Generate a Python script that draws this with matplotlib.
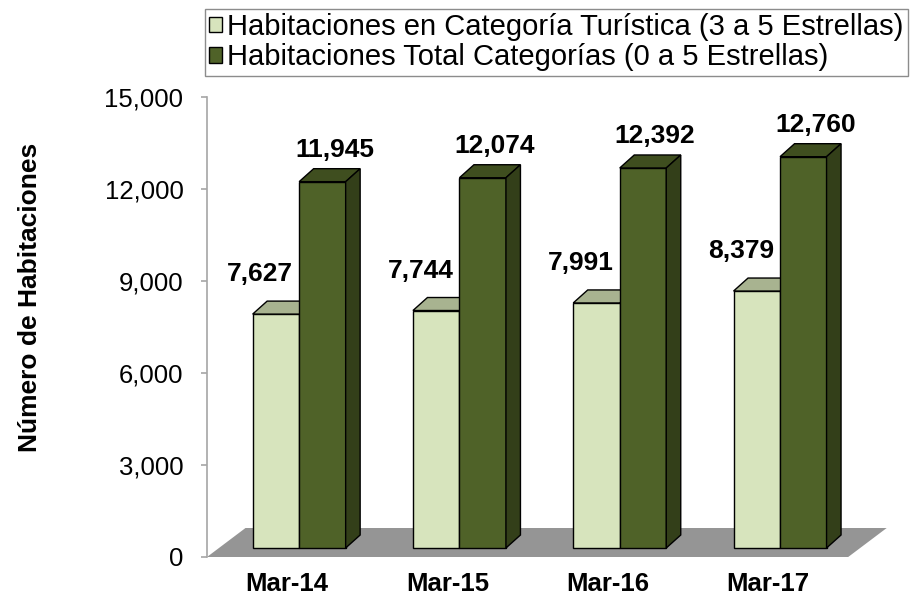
import matplotlib.pyplot as plt
from matplotlib.patches import Polygon, Patch
from matplotlib.ticker import FuncFormatter

plt.rcParams['font.family'] = ['Liberation Sans', 'DejaVu Sans']

# Data
categories = ['Mar-14', 'Mar-15', 'Mar-16', 'Mar-17']
turistica = [7627, 7744, 7991, 8379]
total = [11945, 12074, 12392, 12760]
legend_labels = ['Habitaciones en Categoría Turística (3 a 5 Estrellas)',
                 'Habitaciones Total Categorías (0 a 5 Estrellas)']

# Colors
LIGHT = {'front': '#d7e4bd', 'top': '#a8b390', 'side': '#9aa67f'}
DARK = {'front': '#4f6228', 'top': '#3f4e1f', 'side': '#333f19'}
FLOOR = '#959595'
AXIS_GRAY = '#a6a6a6'

fig = plt.figure(figsize=(9.18, 5.99), dpi=100)
AX_W, AX_H = 680, 460   # axes size in pixels
ax = fig.add_axes([207 / 918, 42 / 599, AX_W / 918, AX_H / 599])

xmin, xmax = -0.5, -0.5 + AX_W / 160.3
ymax = 15000
ax.set_xlim(xmin, xmax)
ax.set_ylim(0, ymax)

# pixel -> data conversion for the pseudo 3D offsets
ux = (xmax - xmin) / AX_W
uy = ymax / AX_H

floor_dx, floor_dy = 38.5 * ux, 29 * uy
shift_x, shift_y = 12 * ux, 9 * uy
depth_x, depth_y = 14.5 * ux, 13 * uy
w = 46.5 * ux

n = len(categories)
floor = Polygon([(-0.5, 0), (n - 0.5, 0), (n - 0.5 + floor_dx, floor_dy),
                 (-0.5 + floor_dx, floor_dy)], closed=True,
                facecolor=FLOOR, edgecolor='none', clip_on=False, zorder=1)
ax.add_patch(floor)


def draw_bar(x0, h, colors, side=True):
    y0 = shift_y
    top = y0 + h
    faces = [
        ('front', [(x0, y0), (x0 + w, y0), (x0 + w, top), (x0, top)]),
        ('top', [(x0, top), (x0 + w, top), (x0 + w + depth_x, top + depth_y),
                 (x0 + depth_x, top + depth_y)]),
    ]
    if side:
        faces.append(('side', [(x0 + w, y0), (x0 + w + depth_x, y0 + depth_y),
                               (x0 + w + depth_x, top + depth_y), (x0 + w, top)]))
    for name, pts in faces:
        ax.add_patch(Polygon(pts, closed=True, facecolor=colors[name],
                             edgecolor='black', linewidth=1.0,
                             joinstyle='miter', clip_on=False, zorder=2))


for i in range(n):
    xl = i - w + shift_x
    xd = i + shift_x
    draw_bar(xl, turistica[i], LIGHT, side=False)
    draw_bar(xd, total[i], DARK)

    # value labels
    ax.text(xd - 6 * ux, shift_y + turistica[i] + depth_y + 27 * uy,
            f'{turistica[i]:,}', ha='right', va='center',
            fontsize=19, fontweight='bold', clip_on=False)
    ax.text(xd + w / 2 + 12 * ux, shift_y + total[i] + depth_y + 19 * uy,
            f'{total[i]:,}', ha='center', va='center',
            fontsize=19, fontweight='bold', clip_on=False)

# axes styling
for s in ['top', 'right', 'bottom']:
    ax.spines[s].set_visible(False)
ax.spines['left'].set_color(AXIS_GRAY)
ax.spines['left'].set_linewidth(1.2)
ax.set_yticks(range(0, 15001, 3000))
ax.yaxis.set_major_formatter(FuncFormatter(lambda v, p: f'{int(v):,}'))
ax.tick_params(axis='y', direction='out', length=4, width=1.2,
               color=AXIS_GRAY, labelsize=18.5, pad=13)
ax.set_xticks(range(n))
ax.set_xticklabels(categories, fontsize=18.5, fontweight='bold')
ax.tick_params(axis='x', length=0, pad=11)

fig.text(30 / 918, 0.503, 'Número de Habitaciones', rotation=90,
         ha='center', va='center', fontsize=19, fontweight='bold')

handles = [Patch(facecolor=LIGHT['front'], edgecolor='black', linewidth=1.0),
           Patch(facecolor=DARK['front'], edgecolor='black', linewidth=1.0)]
leg = fig.legend(handles, legend_labels, loc='upper left',
                 bbox_to_anchor=(205 / 918, 1 - 9 / 599),
                 fontsize=21, handlelength=0.43, handleheight=0.43,
                 handletextpad=0.2, labelspacing=0.08, borderpad=0.14,
                 borderaxespad=0, fancybox=False, framealpha=1)
leg.get_frame().set_edgecolor('#8c8c8c')
leg.get_frame().set_linewidth(1.0)

fig.savefig('out.png', dpi=100)
